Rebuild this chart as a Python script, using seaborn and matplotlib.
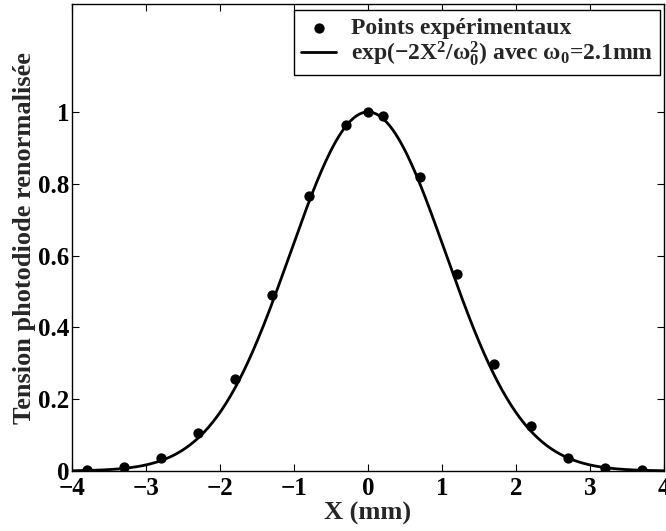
import numpy as np
import pandas as pd
import matplotlib
matplotlib.use('Agg')
import matplotlib.pyplot as plt
import seaborn as sns

x_mm = [-3.8, -3.3, -2.8, -2.3, -1.8, -1.3, -0.8, -0.3, 0.0,
        0.2, 0.7, 1.2, 1.7, 2.2, 2.7, 3.2, 3.7]
tension = [0.003, 0.010, 0.035, 0.107, 0.256, 0.490, 0.765, 0.964, 1.000,
           0.988, 0.819, 0.550, 0.298, 0.125, 0.037, 0.009, 0.003]

# gaussian fit given in the legend
w0 = 2.1
x_ticks = [-4, -3, -2, -1, 0, 1, 2, 3, 4]
y_ticks = [0, 0.2, 0.4, 0.6, 0.8, 1]
y_tick_labels = ['0', '0.2', '0.4', '0.6', '0.8', '1']

sns.set_style('ticks')
plt.rcParams['font.family'] = ['Liberation Serif', 'DejaVu Serif']
plt.rcParams['font.weight'] = 'bold'
plt.rcParams['mathtext.fontset'] = 'custom'
plt.rcParams['mathtext.rm'] = 'Liberation Serif:bold'
plt.rcParams['mathtext.it'] = 'Liberation Serif:bold'
plt.rcParams['mathtext.bf'] = 'Liberation Serif:bold'
plt.rcParams['mathtext.default'] = 'bf'

df_pts = pd.DataFrame({'x': x_mm, 'y': tension})
xf = np.linspace(-4, 4, 400)
df_fit = pd.DataFrame({'x': xf, 'y': np.exp(-2 * xf**2 / w0**2)})

fig = plt.figure(figsize=(6.66, 5.31), dpi=100)
ax = fig.add_axes([0.108, 0.113, 0.889, 0.879])

sns.scatterplot(data=df_pts, x='x', y='y', ax=ax, color='black', s=55,
                edgecolor='black', linewidth=0, label='Points expérimentaux', zorder=3)
sns.lineplot(data=df_fit, x='x', y='y', ax=ax, color='black', linewidth=2.0,
             label=r'exp($-$2X$^2$/$\omega_0^2$) avec $\omega_0$=2.1mm')

ax.set_xlim(-4, 4)
ax.set_ylim(0, 1.3)
ax.set_xticks(x_ticks)
ax.set_yticks(y_ticks)
ax.set_yticklabels(y_tick_labels)
ax.tick_params(direction='in', length=5, width=0.8, top=True, right=True,
               labelsize=18, pad=2, colors='black')
ax.tick_params(axis='x', pad=4)
for lab in ax.get_xticklabels() + ax.get_yticklabels():
    lab.set_fontweight('bold')
for sp in ax.spines.values():
    sp.set_visible(True)
    sp.set_linewidth(1)
    sp.set_color('black')

ax.set_xlabel('X (mm)', fontsize=19, fontweight='bold', labelpad=2)
ax.set_ylabel('Tension photodiode renormalisée', fontsize=19, fontweight='bold', labelpad=1)

leg = ax.legend(loc='upper right', bbox_to_anchor=(0.993, 0.987), borderaxespad=0,
                fancybox=False, edgecolor='black', framealpha=1,
                handlelength=1.5, handletextpad=0.6, labelspacing=0.0,
                borderpad=0.3, prop={'weight': 'bold', 'size': 17})
leg.get_frame().set_linewidth(1)

fig.savefig('out.png', dpi=100)
